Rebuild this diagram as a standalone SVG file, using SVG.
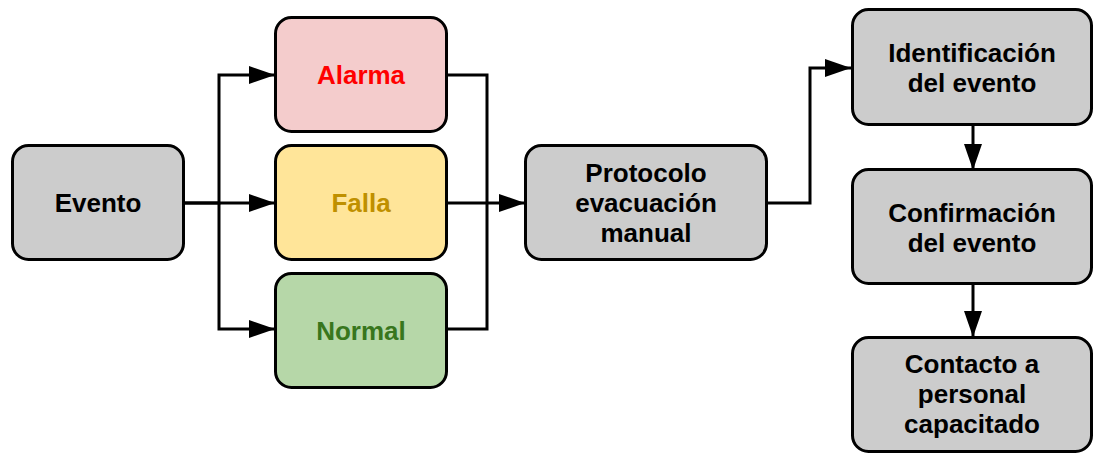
<svg xmlns="http://www.w3.org/2000/svg" width="1100" height="461" viewBox="0 0 1100 461">
<style>
.box{stroke:#000;stroke-width:3}
.gray{fill:#cccccc}
.red{fill:#f4cccc}
.yel{fill:#ffe599}
.grn{fill:#b6d7a8}
text{font-family:"Liberation Sans",Arial,sans-serif;font-weight:bold;font-size:26px;text-anchor:middle;fill:#000}
.conn{fill:none;stroke:#000;stroke-width:3}
</style>
<defs>
<marker id="arr" viewBox="0 0 26 18" refX="26" refY="9" markerWidth="26" markerHeight="18" markerUnits="userSpaceOnUse" orient="auto">
<path d="M0,0 L26,9 L0,18 Z" fill="#000"/>
</marker>
</defs>
<g id="connectors">
<path class="conn" d="M184,203 H219 V75 H275" marker-end="url(#arr)"/>
<path class="conn" d="M184,203 H275" marker-end="url(#arr)"/>
<path class="conn" d="M219,203 V329 H275" marker-end="url(#arr)"/>
<path class="conn" d="M446,75 H487 V329 H446"/>
<path class="conn" d="M446,203 H525" marker-end="url(#arr)"/>
<path class="conn" d="M767,203 H810 V68 H851" marker-end="url(#arr)"/>
<path class="conn" d="M973,125 V170" marker-end="url(#arr)"/>
<path class="conn" d="M973,284 V337" marker-end="url(#arr)"/>
</g>
<g id="evento">
<rect class="box gray" x="12.5" y="145.5" width="171" height="114" rx="16"/>
<text x="98" y="212">Evento</text>
</g>
<g id="alarma">
<rect class="box red" x="275.5" y="17.5" width="171" height="114" rx="16"/>
<text x="361" y="84" style="fill:#ff0000">Alarma</text>
</g>
<g id="falla">
<rect class="box yel" x="275.5" y="145.5" width="171" height="114" rx="16"/>
<text x="361" y="212" style="fill:#bf9000">Falla</text>
</g>
<g id="normal">
<rect class="box grn" x="275.5" y="273.5" width="171" height="114" rx="16"/>
<text x="361" y="340" style="fill:#38761d">Normal</text>
</g>
<g id="protocolo">
<rect class="box gray" x="525.5" y="145.5" width="241" height="114" rx="16"/>
<text x="646" y="181.5">Protocolo</text>
<text x="646" y="211.5">evacuación</text>
<text x="646" y="241.5">manual</text>
</g>
<g id="identificacion">
<rect class="box gray" x="852.5" y="9.5" width="239" height="115" rx="16"/>
<text x="972" y="62">Identificación</text>
<text x="972" y="92">del evento</text>
</g>
<g id="confirmacion">
<rect class="box gray" x="852.5" y="169.5" width="239" height="114" rx="16"/>
<text x="972" y="221.5">Confirmación</text>
<text x="972" y="251.5">del evento</text>
</g>
<g id="contacto">
<rect class="box gray" x="852.5" y="337.5" width="239" height="114" rx="16"/>
<text x="972" y="373">Contacto a</text>
<text x="972" y="403">personal</text>
<text x="972" y="433">capacitado</text>
</g>
</svg>
